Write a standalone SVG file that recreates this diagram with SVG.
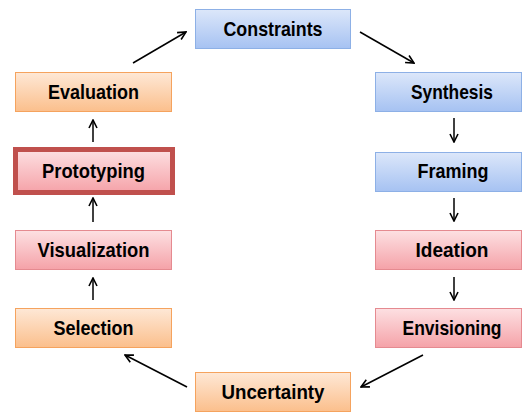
<svg xmlns="http://www.w3.org/2000/svg" width="522" height="413" viewBox="0 0 522 413">
<defs>
<linearGradient id="gb" x1="0" y1="0" x2="0" y2="1"><stop offset="0" stop-color="#dce7fa"/><stop offset="1" stop-color="#a6c2f2"/></linearGradient>
<linearGradient id="go" x1="0" y1="0" x2="0" y2="1"><stop offset="0" stop-color="#fee8d6"/><stop offset="1" stop-color="#fbbf8c"/></linearGradient>
<linearGradient id="gr" x1="0" y1="0" x2="0" y2="1"><stop offset="0" stop-color="#fde0e2"/><stop offset="1" stop-color="#f5a2a8"/></linearGradient>
<marker id="ah" viewBox="0 0 10 10" refX="9" refY="5" markerWidth="10" markerHeight="10" markerUnits="userSpaceOnUse" orient="auto">
<polyline points="1,1 9,5 1,9" fill="none" stroke="#000" stroke-width="1.6"/>
</marker>
</defs>
<style>
.b{fill:url(#gb);stroke:#8db0e6;stroke-width:1}
.o{fill:url(#go);stroke:#f5a35e;stroke-width:1}
.r{fill:url(#gr);stroke:#e58a90;stroke-width:1}
.t{font-family:"Liberation Sans",Arial,sans-serif;font-weight:bold;font-size:21px;fill:#000;text-anchor:middle}
.c{fill:none;stroke:#000;stroke-width:1.5;marker-end:url(#ah)}
</style>
<rect width="522" height="413" fill="#fff"/>
<g id="constraints"><rect class="b" x="195.5" y="9.5" width="155" height="39"/><text class="t" x="273" y="36" textLength="99" lengthAdjust="spacingAndGlyphs">Constraints</text></g>
<g id="synthesis"><rect class="b" x="375.5" y="72.5" width="146" height="39"/><text class="t" x="452" y="99" textLength="82" lengthAdjust="spacingAndGlyphs">Synthesis</text></g>
<g id="framing"><rect class="b" x="375.5" y="152.5" width="146" height="39"/><text class="t" x="453" y="178" textLength="71" lengthAdjust="spacingAndGlyphs">Framing</text></g>
<g id="ideation"><rect class="r" x="375.5" y="230.5" width="146" height="39"/><text class="t" x="452" y="257" textLength="73" lengthAdjust="spacingAndGlyphs">Ideation</text></g>
<g id="envisioning"><rect class="r" x="375.5" y="308.5" width="146" height="39"/><text class="t" x="452" y="335" textLength="99" lengthAdjust="spacingAndGlyphs">Envisioning</text></g>
<g id="uncertainty"><rect class="o" x="195.5" y="372.5" width="155" height="39"/><text class="t" x="273" y="399" textLength="103" lengthAdjust="spacingAndGlyphs">Uncertainty</text></g>
<g id="selection"><rect class="o" x="15.5" y="308.5" width="156" height="39"/><text class="t" x="93.5" y="335" textLength="80" lengthAdjust="spacingAndGlyphs">Selection</text></g>
<g id="visualization"><rect class="r" x="15.5" y="230.5" width="156" height="39"/><text class="t" x="93.5" y="257" textLength="112" lengthAdjust="spacingAndGlyphs">Visualization</text></g>
<g id="prototyping"><rect class="r" x="15.5" y="149.5" width="157" height="43" style="stroke:#c0504d;stroke-width:5"/><text class="t" x="93.5" y="178" textLength="103" lengthAdjust="spacingAndGlyphs">Prototyping</text></g>
<g id="evaluation"><rect class="o" x="15.5" y="72.5" width="156" height="39"/><text class="t" x="93.5" y="99" textLength="91" lengthAdjust="spacingAndGlyphs">Evaluation</text></g>
<g id="connectors">
<line class="c" x1="133" y1="63" x2="186" y2="32"/>
<line class="c" x1="360" y1="32" x2="414" y2="63"/>
<line class="c" x1="454" y1="118" x2="454" y2="142"/>
<line class="c" x1="454" y1="198" x2="454" y2="221"/>
<line class="c" x1="454" y1="277" x2="454" y2="300"/>
<line class="c" x1="423" y1="355" x2="361" y2="387"/>
<line class="c" x1="187" y1="387" x2="125" y2="355"/>
<line class="c" x1="93" y1="300" x2="93" y2="278"/>
<line class="c" x1="93" y1="222" x2="93" y2="198"/>
<line class="c" x1="93" y1="142" x2="93" y2="120"/>
</g>
</svg>
